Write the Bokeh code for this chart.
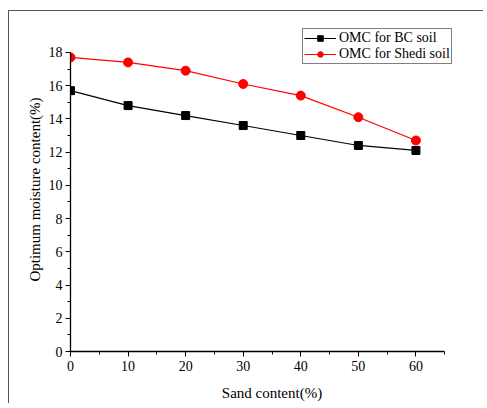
from bokeh.plotting import figure
from bokeh.models import Range1d, Legend, LegendItem, FixedTicker
from bokeh.embed import file_html
from bokeh.resources import INLINE

sand = [0, 10, 20, 30, 40, 50, 60]
omc_bc = [15.7, 14.8, 14.2, 13.6, 13.0, 12.4, 12.1]
omc_shedi = [17.7, 17.4, 16.9, 16.1, 15.4, 14.1, 12.7]
x_ticks = [0, 10, 20, 30, 40, 50, 60]
y_ticks = [0, 2, 4, 6, 8, 10, 12, 14, 16, 18]

FONT = "Liberation Serif"

p = figure(
    output_backend="svg", toolbar_location=None,
    frame_width=403, frame_height=324,
    min_border_left=61, min_border_top=16, min_border_right=10, min_border_bottom=49,
    x_range=Range1d(0, 70), y_range=Range1d(0, 19.5),
)
p.styles = {"margin-left": "8px", "margin-top": "10px",
            "border-left": "1px solid #555555", "border-top": "1px solid #555555"}
p.outline_line_color = None
p.grid.visible = False
p.background_fill_color = "white"
p.border_fill_color = "white"

for ax in (p.xaxis[0], p.yaxis[0]):
    ax.axis_line_color = "black"
    ax.axis_line_width = 1.3
    ax.major_tick_line_color = "black"
    ax.minor_tick_line_color = "black"
    ax.major_tick_out = 5
    ax.major_tick_in = 0
    ax.minor_tick_out = 3
    ax.minor_tick_in = 0
    ax.major_label_text_font = FONT
    ax.major_label_text_font_size = "14px"
    ax.major_label_text_color = "black"
    ax.axis_label_text_font = FONT
    ax.axis_label_text_font_size = "15px"
    ax.axis_label_text_font_style = "normal"
    ax.axis_label_text_color = "black"

p.xaxis[0].ticker = FixedTicker(ticks=x_ticks, minor_ticks=[5, 15, 25, 35, 45, 55, 65])
p.yaxis[0].ticker = FixedTicker(ticks=y_ticks, minor_ticks=[1, 3, 5, 7, 9, 11, 13, 15, 17])
p.xaxis[0].bounds = (0, 65)
p.yaxis[0].bounds = (0, 18)
p.xaxis[0].axis_label = "Sand content(%)"
p.yaxis[0].axis_label = "Optimum moisture content(%)"
p.xaxis[0].major_label_standoff = 4
p.xaxis[0].axis_label_standoff = 11
p.yaxis[0].major_label_standoff = 3
p.yaxis[0].axis_label_standoff = 3

l1 = p.line(sand, omc_bc, line_color="black", line_width=1.2)
s1 = p.scatter(sand, omc_bc, marker="square", size=8, fill_color="black", line_color="black")
l2 = p.line(sand, omc_shedi, line_color="red", line_width=1.2)
s2 = p.scatter(sand, omc_shedi, marker="circle", size=9, fill_color="red", line_color="red")

legend = Legend(
    items=[LegendItem(label="OMC for BC soil", renderers=[l1, s1]),
           LegendItem(label="OMC for Shedi soil", renderers=[l2, s2])],
    location=(232, 287),
    label_text_font=FONT, label_text_font_size="14px", label_text_color="black",
    glyph_width=32, glyph_height=14, label_height=14, label_standoff=3,
    padding=1, spacing=0, margin=0,
    border_line_color="black", border_line_width=1.2,
    background_fill_alpha=1.0,
)
p.add_layout(legend, "center")

open("out.html", "w").write(file_html(p, INLINE))
